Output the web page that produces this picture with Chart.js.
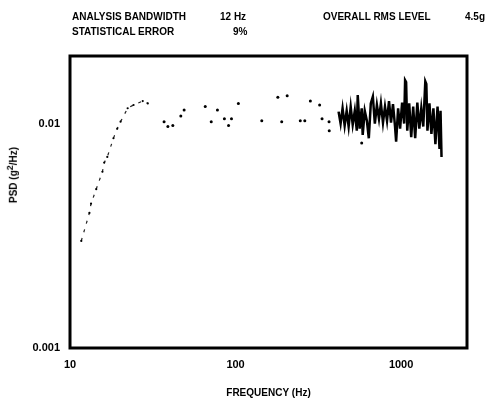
<!DOCTYPE html>
<html>
<head>
<meta charset="utf-8">
<script src="https://cdn.jsdelivr.net/npm/chart.js@4/dist/chart.umd.min.js"></script>
<style>
  html, body { margin: 0; padding: 0; background: #fff; }
  #wrap { position: relative; width: 496px; height: 403px; }
  canvas { position: absolute; left: 0; top: 0; }
  .hd { position: absolute; font-family: "Liberation Sans Narrow", "Liberation Sans", sans-serif; font-weight: bold; font-size: 10px; color: #000; white-space: nowrap; line-height: 1; }
  #ytitle { position: absolute; left: 12px; top: 175px; transform: translate(-50%, -50%) rotate(-90deg); font-family: "Liberation Sans Narrow", "Liberation Sans", sans-serif; font-weight: bold; font-size: 10px; white-space: nowrap; }
  #ytitle sup { font-size: 9px; }
</style>
</head>
<body>
<div id="wrap">
  <canvas id="c" width="496" height="403"></canvas>
  <div class="hd" style="left:72px; top:12px;">ANALYSIS BANDWIDTH</div>
  <div class="hd" style="left:220px; top:12px;">12 Hz</div>
  <div class="hd" style="left:323px; top:12px;">OVERALL RMS LEVEL</div>
  <div class="hd" style="left:465px; top:12px;">4.5g</div>
  <div class="hd" style="left:72px; top:27px;">STATISTICAL ERROR</div>
  <div class="hd" style="left:233px; top:27px;">9%</div>
  <div id="ytitle">PSD (g<sup>2</sup>/Hz)</div>
</div>
<script>
// ---- data ----
const riseFreq = [11.7, 13.1, 13.4, 14.4, 15.7, 16.1, 16.8, 18.3, 19.3, 20.2, 22.3, 24.2, 27.5, 29.5];
const risePsd  = [0.0030, 0.0040, 0.0044, 0.0051, 0.0061, 0.0067, 0.0071, 0.0086, 0.0095, 0.0102, 0.0117, 0.0121, 0.0126, 0.0123];

const midFreq = [37, 39, 41.8, 46.7, 48.9, 65.6, 71.3, 77.7, 85.6, 90.7, 94.5, 104, 144, 180, 190, 205, 246, 262, 283, 322, 333, 367, 368, 578];
const midPsd  = [0.0102, 0.0097, 0.0098, 0.0108, 0.0115, 0.0119, 0.0102, 0.0115, 0.0105, 0.0098, 0.0105, 0.0123, 0.0103, 0.0131, 0.0102, 0.0133, 0.0103, 0.0103, 0.0126, 0.0121, 0.0105, 0.0102, 0.0093, 0.0082];

const denseFreq = [419, 431, 443, 456, 469, 482, 496, 510, 525, 540, 547, 562, 578, 586, 603, 621, 638, 656, 675, 694, 714, 735, 755, 777, 799, 822, 845, 869, 893, 919, 933, 959, 986, 1014, 1043, 1057, 1072, 1089, 1119, 1151, 1183, 1216, 1253, 1288, 1324, 1361, 1400, 1420, 1442, 1483, 1524, 1567, 1611, 1660, 1706, 1730, 1754];
const densePsd  = [0.0113, 0.0100, 0.0117, 0.0098, 0.0114, 0.0097, 0.0119, 0.0099, 0.0114, 0.0093, 0.0134, 0.0095, 0.0117, 0.0089, 0.0114, 0.0103, 0.0086, 0.0123, 0.0132, 0.0100, 0.0121, 0.0105, 0.0123, 0.0101, 0.0119, 0.0103, 0.0126, 0.0101, 0.0122, 0.0097, 0.0083, 0.0117, 0.0095, 0.0124, 0.0100, 0.0156, 0.0153, 0.0093, 0.0123, 0.0087, 0.0119, 0.0086, 0.0124, 0.0095, 0.0117, 0.0097, 0.0154, 0.0150, 0.0093, 0.0123, 0.0090, 0.0117, 0.0081, 0.0119, 0.0077, 0.0114, 0.0071];

const xTickLabels = [10, 100, 1000];
const yTickLabels = [0.001, 0.01];
const xRange = [10, 2500];
const yRange = [0.001, 0.02];

const toPts = (xs, ys) => xs.map((x, i) => ({ x: x, y: ys[i] }));

const frame = {
  id: 'frame',
  afterDatasetsDraw(chart) {
    const a = chart.chartArea, ctx = chart.ctx;
    ctx.save();
    ctx.strokeStyle = '#000';
    ctx.lineWidth = 3;
    ctx.strokeRect(a.left, a.top, a.right - a.left, a.bottom - a.top);
    ctx.restore();
  }
};

const tickFont = { family: '"Liberation Sans Narrow", "Liberation Sans", sans-serif', weight: 'bold', size: 11 };

new Chart(document.getElementById('c'), {
  type: 'scatter',
  data: {
    datasets: [
      { label: 'rise', data: toPts(riseFreq, risePsd), showLine: true, borderColor: '#222', borderWidth: 1.2, borderDash: [3, 6], pointRadius: 1.1, pointBackgroundColor: '#000', pointBorderWidth: 0 },
      { label: 'mid', data: toPts(midFreq, midPsd), showLine: false, pointRadius: 1.5, pointBackgroundColor: '#000', pointBorderWidth: 0 },
      { label: 'dense', data: toPts(denseFreq, densePsd), showLine: true, borderColor: '#000', borderWidth: 2.5, pointRadius: 0, tension: 0 }
    ]
  },
  options: {
    responsive: false,
    animation: false,
    layout: { padding: { left: 0, right: 29, top: 56, bottom: 0 } },
    plugins: { legend: { display: false }, tooltip: { enabled: false } },
    scales: {
      x: {
        type: 'logarithmic', min: xRange[0], max: xRange[1],
        grid: { display: false, drawTicks: false },
        border: { display: false },
        afterFit(s) { s.height = 55; },
        ticks: {
          color: '#000', font: tickFont, padding: 10, maxRotation: 0, autoSkip: false,
          callback(v) { return xTickLabels.includes(v) ? String(v) : ''; }
        },
        title: { display: true, text: 'FREQUENCY (Hz)', color: '#000', font: { family: tickFont.family, weight: 'bold', size: 10 }, padding: { top: 10, bottom: 4 } }
      },
      y: {
        type: 'logarithmic', min: yRange[0], max: yRange[1],
        grid: { display: false, drawTicks: false },
        border: { display: false },
        afterFit(s) { s.width = 70; },
        ticks: {
          color: '#000', font: tickFont, padding: 10, autoSkip: false,
          callback(v) { return yTickLabels.some(t => Math.abs(t - v) / t < 1e-6) ? String(v) : ''; }
        }
      }
    }
  },
  plugins: [frame]
});
</script>
</body>
</html>
